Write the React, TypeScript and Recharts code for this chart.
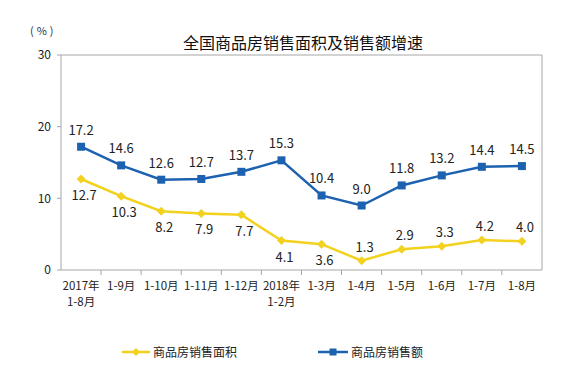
import React from 'react';
import { LineChart, Line, XAxis, YAxis, Legend, ReferenceLine } from 'recharts';

// Period labels (two-line ones split by \n)
const periods = [
  '2017年\n1-8月', '1-9月', '1-10月', '1-11月', '1-12月', '2018年\n1-2月',
  '1-3月', '1-4月', '1-5月', '1-6月', '1-7月', '1-8月'
];
const salesAmount = [17.2, 14.6, 12.6, 12.7, 13.7, 15.3, 10.4, 9.0, 11.8, 13.2, 14.4, 14.5];
const salesArea = [12.7, 10.3, 8.2, 7.9, 7.7, 4.1, 3.6, 1.3, 2.9, 3.3, 4.2, 4.0];
const yTicks = [0, 10, 20, 30];

const data = periods.map((p, i) => ({ period: p, amount: salesAmount[i], area: salesArea[i] }));

const CHART_WIDTH = 583;
const CHART_HEIGHT = 369;
const LEGEND_HEIGHT = 24;
const X_AXIS_HEIGHT = 40;
const MARGIN = { top: 55, right: 40, left: 16, bottom: 99 - X_AXIS_HEIGHT - LEGEND_HEIGHT };
const Y_AXIS_WIDTH = 45;
const PLOT_WIDTH = CHART_WIDTH - 16 - 40 - Y_AXIS_WIDTH;
const BAND = PLOT_WIDTH / periods.length;

const BLUE = '#1c62b0';
const YELLOW = '#f2d21e';
const AXIS = '#a6a6a6';
const FONT = '"Noto Sans CJK SC", "Noto Sans", sans-serif';

const XTick = (props: any) => {
  const { x, y, payload, index } = props;
  const lines = String(payload.value).split('\n');
  return (
    <g>
      {index > 0 && <line x1={x - BAND / 2} x2={x - BAND / 2} y1={y - 8} y2={y - 3} stroke={AXIS} />}
      {lines.map((l: string, i: number) => (
        <text key={i} x={x} y={y + 12 + i * 16} textAnchor="middle" fontSize={11.5} fill="#222" fontFamily={FONT}>
          {l}
        </text>
      ))}
    </g>
  );
};

const SquareDot = (props: any) => {
  const { cx, cy } = props;
  return <rect x={cx - 4} y={cy - 4} width={8} height={8} fill={BLUE} />;
};

const DiamondDot = (props: any) => {
  const { cx, cy } = props;
  return <path d={`M${cx},${cy - 4.5}L${cx + 4.5},${cy}L${cx},${cy + 4.5}L${cx - 4.5},${cy}Z`} fill={YELLOW} />;
};

const AmountLabel = (props: any) => {
  const { x, y, value } = props;
  return (
    <text x={x} y={y - 12} textAnchor="middle" fontSize={13} fill="#222" fontFamily={FONT}>
      {value.toFixed(1)}
    </text>
  );
};

// first seven labels sit under the line, the rest above
const AreaLabel = (props: any) => {
  const { x, y, value, index } = props;
  const below = index < 7;
  return (
    <text x={x + 3} y={below ? y + 21 : y - 9} textAnchor="middle" fontSize={13} fill="#222" fontFamily={FONT}>
      {value.toFixed(1)}
    </text>
  );
};

const LegendContent = () => (
  <svg width={CHART_WIDTH} height={LEGEND_HEIGHT} style={{ display: 'block' }}>
    <line x1={122} x2={150} y1={11} y2={11} stroke={YELLOW} strokeWidth={2.5} />
    <path d="M136,7L140,11L136,15L132,11Z" fill={YELLOW} />
    <text x={153} y={15.5} fontSize={12} fill="#222" fontFamily={FONT}>商品房销售面积</text>
    <line x1={318} x2={348} y1={11} y2={11} stroke={BLUE} strokeWidth={2.5} />
    <rect x={329.5} y={7.5} width={7} height={7} fill={BLUE} />
    <text x={351} y={15.5} fontSize={12} fill="#222" fontFamily={FONT}>商品房销售额</text>
  </svg>
);

export default function App() {
  return (
    <div style={{ position: 'absolute', left: 0, top: 0, width: CHART_WIDTH, height: CHART_HEIGHT, background: '#fff' }}>
      <div style={{ position: 'absolute', left: 0, top: 32, width: 606, textAlign: 'center', fontSize: 16, color: '#111', fontFamily: FONT, lineHeight: '20px' }}>
        全国商品房销售面积及销售额增速
      </div>
      <div style={{ position: 'absolute', left: 30, top: 22, fontSize: 11, letterSpacing: 3, color: '#333', fontFamily: FONT }}>(%)</div>
      <LineChart width={CHART_WIDTH} height={CHART_HEIGHT} data={data} margin={MARGIN}>
        <XAxis
          dataKey="period"
          stroke={AXIS}
          tickLine={false}
          interval={0}
          height={X_AXIS_HEIGHT}
          padding={{ left: BAND / 2, right: BAND / 2 }}
          tick={<XTick />}
        />
        <YAxis
          domain={[0, 30]}
          ticks={yTicks}
          width={Y_AXIS_WIDTH}
          stroke={AXIS}
          tickSize={4}
          tickMargin={6}
          tick={{ fill: '#222', fontSize: 12, fontFamily: FONT }}
        />
        <YAxis
          yAxisId="right"
          orientation="right"
          domain={[0, 30]}
          width={1}
          stroke={AXIS}
          tick={false}
          tickLine={false}
        />
        <ReferenceLine y={30} stroke={AXIS} />
        <Legend
          verticalAlign="bottom"
          height={LEGEND_HEIGHT}
          wrapperStyle={{ left: 0, top: 341, width: CHART_WIDTH }}
          content={<LegendContent />}
        />
        <Line
          dataKey="area"
          stroke={YELLOW}
          strokeWidth={2.5}
          dot={<DiamondDot />}
          activeDot={false}
          label={<AreaLabel />}
          isAnimationActive={false}
        />
        <Line
          dataKey="amount"
          stroke={BLUE}
          strokeWidth={2.5}
          dot={<SquareDot />}
          activeDot={false}
          label={<AmountLabel />}
          isAnimationActive={false}
        />
      </LineChart>
    </div>
  );
}
